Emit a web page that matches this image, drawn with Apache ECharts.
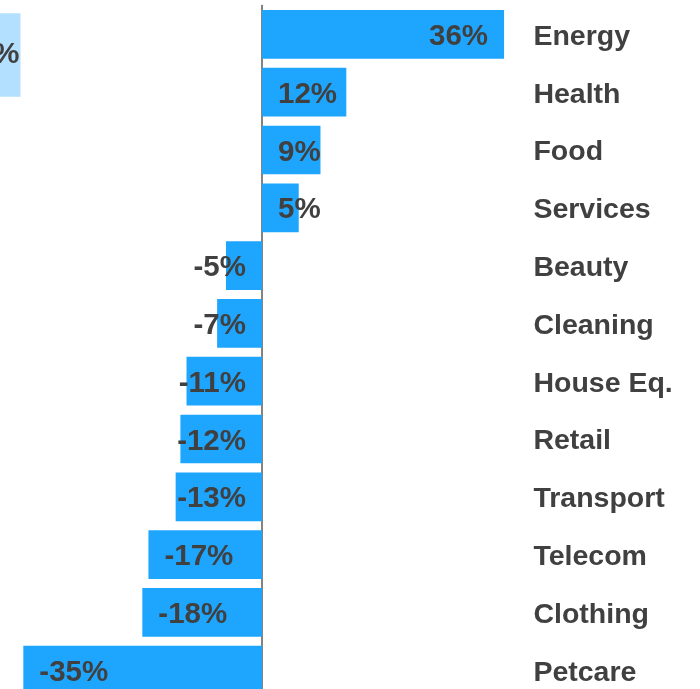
<!DOCTYPE html>
<html>
<head>
<meta charset="utf-8">
<script src="https://cdn.jsdelivr.net/npm/echarts@6/dist/echarts.min.js"></script>
<style>
html,body{margin:0;padding:0;background:#fff;}
#chart{width:700px;height:689px;}
</style>
</head>
<body>
<div id="chart"></div>
<script>
// Categories (top to bottom)
var categories = ['Energy','Health','Food','Services','Beauty','Cleaning','House Eq.','Retail','Transport','Telecom','Clothing','Petcare'];
// Change in % (labels are rounded)
var values = [35.6, 12.4, 8.6, 5.4, -5.3, -6.6, -11.1, -12.0, -12.7, -16.7, -17.6, -35.1];
// Partially visible neighbouring bar (top-left corner)
var sideCategories = ['Total'];
var sideValues = [4];

var textColor = '#404040';
var font = 'Liberation Sans, Arial, Helvetica, sans-serif';

function labelFor(v) {
  var big = Math.abs(v) >= 14;
  var pos;
  if (v >= 0) pos = big ? 'insideRight' : 'insideLeft';
  else pos = big ? 'insideLeft' : 'insideRight';
  return { position: pos };
}

var chart = echarts.init(document.getElementById('chart'), null, {renderer: 'canvas'});
chart.setOption({
  animation: false,
  backgroundColor: '#ffffff',
  grid: [
    { left: 3.6, width: 516.8, top: 5.5, height: 693.6, containLabel: false, outerBoundsMode: 'none' },
    { left: -180, width: 200.5, top: 13.3, height: 83.4, containLabel: false, outerBoundsMode: 'none' }
  ],
  xAxis: [
    { type: 'value', gridIndex: 0, min: -38, max: 38, show: false },
    { type: 'value', gridIndex: 1, min: 0, max: 4, show: false }
  ],
  yAxis: [
    {
      type: 'category', gridIndex: 0, data: categories, inverse: true,
      axisLine: { show: true, onZero: true, lineStyle: { color: '#5a5a5a', width: 1.5 } },
      axisTick: { show: false }, axisLabel: { show: false }, splitLine: { show: false }
    },
    {
      type: 'category', gridIndex: 0, data: categories, inverse: true, position: 'right',
      axisLine: { show: false, onZero: false }, axisTick: { show: false }, splitLine: { show: false },
      axisLabel: { show: true, margin: 13, color: textColor, fontSize: 28.5, fontWeight: 'bold', fontFamily: font, align: 'left', verticalAlign: 'top', lineHeight: 5 }
    },
    {
      type: 'category', gridIndex: 1, data: sideCategories, show: false
    }
  ],
  series: [
    {
      type: 'bar', xAxisIndex: 0, yAxisIndex: 0,
      barCategoryGap: '15.7%',
      itemStyle: { color: '#1EA6FF' },
      label: {
        show: true, distance: 16, offset: [0, 2.5], color: textColor, fontSize: 29.5, fontWeight: 'bold', fontFamily: font,
        formatter: function (p) { return Math.round(p.value) + '%'; }
      },
      data: values.map(function (v) { return { value: v, label: labelFor(v) }; })
    },
    {
      type: 'bar', xAxisIndex: 1, yAxisIndex: 2,
      barWidth: '100%',
      itemStyle: { color: '#B3E0FF' },
      label: {
        show: true, position: 'insideRight', distance: 1, color: textColor, fontSize: 30, fontWeight: 'bold', fontFamily: font,
        formatter: function (p) { return Math.round(p.value) + '%'; }
      },
      data: sideValues
    }
  ]
});
</script>
</body>
</html>
